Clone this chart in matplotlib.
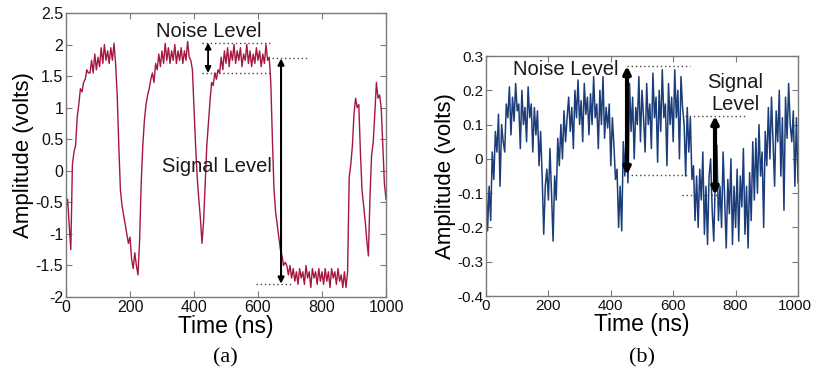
import numpy as np
import matplotlib
matplotlib.use("Agg")
import matplotlib.pyplot as plt
import matplotlib.transforms as mtransforms

# ---------------- data ----------------
time_a = list(range(0, 1001, 5))
amp_a = [
    -0.60, -0.45, -0.85, -1.25, 0.10, 0.30, 0.40, 0.85, 1.05, 1.30,
    1.25, 1.40, 1.45, 1.60, 1.55, 1.55, 1.75, 1.55, 1.85, 1.60,
    1.80, 1.65, 1.95, 1.70, 2.00, 1.75, 1.90, 1.70, 1.95, 1.75,
    2.02, 1.70, 1.20, 0.40, -0.30, -0.55, -0.70, -0.85, -1.00, -1.15,
    -1.05, -1.40, -1.55, -1.30, -1.50, -1.65, -1.10, -0.20, 0.40, 0.80,
    1.05, 1.20, 1.30, 1.45, 1.55, 1.40, 1.70, 1.60, 1.85, 1.65,
    1.90, 1.70, 2.02, 1.75, 1.95, 1.70, 1.90, 1.75, 2.00, 1.70,
    1.90, 1.75, 1.95, 1.70, 1.90, 1.75, 2.05, 1.80, 1.75, 1.60,
    1.00, 0.40, -0.10, -0.45, -0.75, -1.15, -0.80, -0.20, 0.40, 0.75,
    1.10, 1.40, 1.35, 1.55, 1.45, 1.60, 1.55, 1.80, 1.60, 1.90,
    1.70, 1.95, 1.65, 1.90, 1.75, 2.00, 1.70, 1.90, 1.75, 1.95,
    1.65, 1.85, 1.75, 2.00, 1.70, 1.90, 1.65, 1.85, 1.70, 1.95,
    1.75, 1.90, 1.65, 1.85, 1.70, 2.00, 1.75, 1.80, 1.40, 0.50,
    -0.30, -0.65, -0.85, -1.05, -1.25, -1.35, -1.50, -1.45, -1.50, -1.65,
    -1.50, -1.70, -1.55, -1.75, -1.60, -1.80, -1.55, -1.70, -1.60, -1.80,
    -1.50, -1.70, -1.60, -1.85, -1.55, -1.70, -1.60, -1.80, -1.55, -1.75,
    -1.60, -1.80, -1.55, -1.75, -1.60, -1.85, -1.55, -1.70, -1.60, -1.80,
    -1.55, -1.75, -1.65, -1.85, -1.60, -1.85, -1.60, -0.10, 0.10, 0.40,
    0.90, 1.15, 1.00, 1.05, 0.30, -0.30, -0.55, -0.80, -1.10, -1.35,
    -0.40, 0.25, 0.45, 0.90, 1.40, 1.15, 1.20, 1.00, 0.40, -0.20,
    -0.45,
]

time_b = list(range(0, 1001, 5))
amp_b = [
    -0.05, -0.21, -0.08, -0.18, 0.02, -0.06, 0.08, 0.02, 0.13, -0.08,
    0.10, 0.05, 0.02, 0.16, 0.12, 0.21, 0.07, 0.18, 0.11, 0.22,
    0.14, 0.16, 0.03, 0.20, 0.10, 0.15, 0.05, 0.21, 0.12, 0.16,
    0.02, 0.15, 0.07, 0.14, -0.02, 0.08, -0.05, -0.22, -0.08, -0.03,
    -0.12, 0.03, -0.10, -0.24, -0.05, -0.12, 0.06, -0.02, 0.10, 0.00,
    0.14, 0.05, 0.12, 0.18, 0.08, 0.15, 0.03, 0.20, 0.12, 0.23,
    0.10, 0.17, 0.05, 0.22, 0.13, 0.18, 0.07, 0.19, 0.10, 0.24,
    0.12, 0.16, 0.03, 0.20, 0.10, 0.24, 0.06, 0.15, 0.09, 0.16,
    -0.02, 0.12, 0.04, -0.06, -0.03, -0.20, -0.08, -0.21, 0.05, -0.05,
    0.10, -0.07, 0.22, 0.08, 0.18, 0.00, 0.15, 0.10, 0.24, 0.05,
    0.20, 0.12, 0.02, 0.22, 0.10, 0.16, 0.03, 0.25, 0.12, 0.18,
    -0.01, 0.20, 0.08, 0.26, 0.12, 0.16, -0.02, 0.22, 0.10, 0.18,
    0.05, 0.26, 0.12, 0.20, 0.00, 0.24, 0.15, 0.10, -0.05, 0.15,
    0.02, 0.12, -0.06, -0.02, -0.18, -0.05, -0.20, -0.03, -0.12, 0.02,
    -0.22, -0.08, -0.25, -0.05, 0.00, -0.15, -0.24, -0.06, 0.04, -0.18,
    -0.08, -0.20, 0.02, -0.12, -0.26, -0.06, -0.16, 0.00, -0.25, -0.08,
    -0.20, -0.03, -0.24, -0.05, -0.14, 0.03, -0.22, -0.08, -0.26, -0.04,
    -0.18, 0.05, -0.12, 0.06, -0.10, 0.10, -0.05, 0.02, -0.20, 0.08,
    -0.02, 0.15, 0.00, 0.18, 0.05, -0.08, 0.14, 0.05, 0.20, -0.05,
    0.12, -0.15, 0.18, 0.06, 0.22, 0.10, 0.05, 0.14, -0.08, 0.12,
    -0.07,
]

xticks = [0, 200, 400, 600, 800, 1000]
yticks_a = [-2, -1.5, -1, -0.5, 0, 0.5, 1, 1.5, 2, 2.5]
yticks_b = [-0.4, -0.3, -0.2, -0.1, 0, 0.1, 0.2, 0.3]

# ---------------- figure ----------------
plt.rcParams['font.family'] = ['Liberation Sans', 'DejaVu Sans']
W, H = 813, 379
fig = plt.figure(figsize=(W / 100, H / 100), dpi=100)

def fmt(v):
    return '%g' % v

spine_col = '#7a7a7a'

def style(ax, yticks, lsize):
    for s in ax.spines.values():
        s.set_color(spine_col)
        s.set_linewidth(1.0)
    ax.tick_params(direction='in', length=4, width=0.8, color=spine_col,
                   top=True, right=True, labelsize=lsize, pad=2,
                   labelcolor='#111111')
    ax.set_xticks(xticks)
    ax.set_xticklabels([fmt(v) for v in xticks])
    ax.set_yticks(yticks)
    ax.set_yticklabels([fmt(v) for v in yticks])
    ax.set_xlabel('Time (ns)', fontsize=16.5, labelpad=0, color='black')
    ax.set_ylabel('Amplitude (volts)', fontsize=16, labelpad=1, color='black')

# Panel (a)
axa = fig.add_axes([66 / W, 1 - 297 / H, 320 / W, 284 / H])
axa.plot(time_a, amp_a, color='#a5173f', lw=1.0)
axa.set_xlim(0, 1000)
axa.set_ylim(-2, 2.5)
style(axa, yticks_a, 11.5)

dot = dict(color='#444444', lw=1.0, ls=(0, (1, 2)))
axa.plot([425, 637], [2.03, 2.03], **dot)
axa.plot([425, 637], [1.55, 1.55], **dot)
axa.plot([643, 752], [1.78, 1.78], **dot)
axa.plot([594, 710], [-1.79, -1.79], **dot)
axa.annotate('', xy=(444, 2.03), xytext=(444, 1.55),
             arrowprops=dict(arrowstyle='<|-|>', color='black', lw=1.3,
                             mutation_scale=9, shrinkA=0, shrinkB=0))
axa.annotate('', xy=(672, 1.78), xytext=(672, -1.79),
             arrowprops=dict(arrowstyle='<|-|>', color='black', lw=1.5,
                             mutation_scale=9, shrinkA=0, shrinkB=0))
axa.text(445, 2.21, 'Noise Level', fontsize=14.5, ha='center', va='center',
         color='#1a1a1a')
axa.text(472, 0.07, 'Signal Level', fontsize=14.5, ha='center', va='center',
         color='#1a1a1a')

# Panel (b)
axb = fig.add_axes([486 / W, 1 - 296 / H, 312 / W, 240 / H])
axb.plot(time_b, amp_b, color='#1b3d7a', lw=1.1)
axb.set_xlim(0, 1000)
axb.set_ylim(-0.4, 0.3)
style(axb, yticks_b, 11)
# keep the last x tick label inside the figure
last = axb.get_xticklabels()[-1]
last.set_transform(last.get_transform() +
                   mtransforms.ScaledTranslation(-3 / 100, 0, fig.dpi_scale_trans))

axb.plot([452, 654], [0.271, 0.271], **dot)
axb.plot([452, 647], [-0.047, -0.047], **dot)
axb.plot([638, 836], [0.125, 0.125], **dot)
axb.plot([628, 760], [-0.105, -0.105], **dot)
axb.annotate('', xy=(452, 0.271), xytext=(452, -0.047),
             arrowprops=dict(arrowstyle='<|-|>', color='black', lw=3.0,
                             mutation_scale=10, shrinkA=0, shrinkB=0))
axb.annotate('', xy=(734, 0.125), xytext=(734, -0.105),
             arrowprops=dict(arrowstyle='<|-|>', color='black', lw=3.0,
                             mutation_scale=10, shrinkA=0, shrinkB=0))
axb.text(256, 0.262, 'Noise Level', fontsize=14.5, ha='center', va='center',
         color='#1a1a1a')
axb.text(800, 0.19, 'Signal\nLevel', fontsize=14.5, ha='center', va='center',
         color='#1a1a1a', linespacing=1.2)

fig.text(225 / W, 1 - 358 / H, '(a)', fontsize=16, ha='center', va='center',
         family='Liberation Serif')
fig.text(642 / W, 1 - 358 / H, '(b)', fontsize=16, ha='center', va='center',
         family='Liberation Serif')

fig.savefig('out.png', dpi=100, facecolor='white')
